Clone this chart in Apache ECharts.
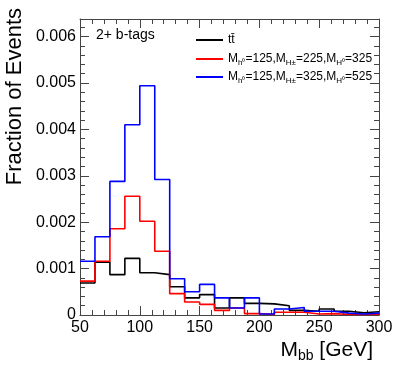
<!DOCTYPE html>
<html>
<head>
<meta charset="utf-8">
<script src="https://cdn.jsdelivr.net/npm/echarts@6/dist/echarts.min.js"></script>
<style>
html,body{margin:0;padding:0;background:#fff;}
#chart{width:399px;height:375px;}
</style>
</head>
<body>
<div id="chart"></div>
<script>
// Bin edges in GeV (20 bins of 12.5 GeV)
const binEdges = [50, 62.5, 75, 87.5, 100, 112.5, 125, 137.5, 150, 162.5, 175, 187.5, 200, 212.5, 225, 237.5, 250, 262.5, 275, 287.5, 300];
// Fraction of events per bin
const ttbar = [0.00069, 0.00114, 0.00087, 0.00122, 0.00091, 0.00087, 0.00061, 0.00037, 0.00044, 0.00015, 0.00037, 0.00025, 0.00024, 0.00020, 0.00010, 0.00008, 0.00013, 0.00008, 0.00005, 0.00007];
const sig225 = [0.00073, 0.00116, 0.00186, 0.00256, 0.00202, 0.001375, 0.00046, 0.00028, 0.00023, 0.00010, 0.00015, 0.00003, 0.00001, 0.00006, 0.00006, 0.00002, 0.00003, 0.00001, 0.00001, 0.00001];
const sig325 = [0.00116, 0.001685, 0.00288, 0.00410, 0.00494, 0.00292, 0.00078, 0.00050, 0.00066, 0.00037, 0.00015, 0.00037, 0.00002, 0.00013, 0.00016, 0.00008, 0.00008, 0.00004, 0.00002, 0.00004];
const xTicks = [50, 100, 150, 200, 250, 300];
const yTicks = [0, 0.001, 0.002, 0.003, 0.004, 0.005, 0.006];

const FONT = 'Liberation Sans';
const xMin = xTicks[0], xMax = xTicks[xTicks.length - 1];
const yMax = 0.00638;

function stepData(vals) {
  return binEdges.map((e, i) => [e, vals[Math.min(i, vals.length - 1)]]);
}

const legendRich = {
  n: {fontSize: 12, fontFamily: FONT, fontWeight: 'normal', color: '#000', lineHeight: 16, verticalAlign: 'middle'},
  s: {fontSize: 8, fontFamily: FONT, fontWeight: 'normal', color: '#000', lineHeight: 8, verticalAlign: 'bottom'}
};
const legendText = {
  'tt̄': '{n|tt̄}',
  'sig225': '{n|M}{s|h⁰}{n|=125,M}{s|H±}{n|=225,M}{s|H⁰}{n|=325}',
  'sig325': '{n|M}{s|h⁰}{n|=125,M}{s|H±}{n|=325,M}{s|H⁰}{n|=525}'
};
const names = ['tt̄', 'sig225', 'sig325'];
const colors = ['#000000', '#ff0000', '#0000ff'];
const legendTops = [29, 48, 66];

const chart = echarts.init(document.getElementById('chart'), null, {renderer: 'canvas'});

function axisCommon() {
  return {
    axisLine: {show: true, onZero: false, lineStyle: {color: '#444', width: 1}},
    axisTick: {show: true, inside: true, length: 9, lineStyle: {color: '#444', width: 1}},
    minorTick: {show: true, splitNumber: 5, length: 5, lineStyle: {color: '#444', width: 1}},
    splitLine: {show: false},
    minorSplitLine: {show: false}
  };
}

const option = {
  animation: false,
  backgroundColor: '#ffffff',
  grid: {left: 80, right: 20, top: 19, bottom: 60, containLabel: false},
  title: [
    {text: '2+ b-tags', left: 91, top: 23, textStyle: {fontFamily: FONT, fontSize: 14, fontWeight: 'normal', color: '#000'}},
    {text: '{m|M}{b|bb}{m| [GeV]}', right: 21, top: 332, textStyle: {fontWeight: 'normal', rich: {
      m: {fontFamily: FONT, fontSize: 21, fontWeight: 'normal', color: '#000', lineHeight: 26, verticalAlign: 'middle'},
      b: {fontFamily: FONT, fontSize: 14, fontWeight: 'normal', color: '#000', lineHeight: 14, verticalAlign: 'bottom'}
    }}}
  ],
  legend: names.map((nm, i) => ({
    data: [nm], left: 191, top: legendTops[i], orient: 'vertical',
    icon: 'rect', itemWidth: 27, itemHeight: 2, itemGap: 4,
    selectedMode: false,
    formatter: (n) => legendText[n],
    textStyle: {rich: legendRich, padding: [0, 0, 0, 0]}
  })),
  xAxis: [
    Object.assign({
      type: 'value', min: xMin, max: xMax, interval: 50, position: 'bottom',
      axisLabel: {show: true, fontFamily: FONT, fontSize: 16, color: '#000', margin: 5}
    }, axisCommon()),
    Object.assign({
      type: 'value', min: xMin, max: xMax, interval: 50, position: 'top',
      axisLabel: {show: false}
    }, axisCommon())
  ],
  yAxis: [
    Object.assign({
      type: 'value', min: 0, max: yMax, interval: 0.001, position: 'left',
      axisLabel: {show: true, fontFamily: FONT, fontSize: 16, color: '#000', margin: 4, showMaxLabel: false,
        formatter: (v) => {
          const t = yTicks.find(y => Math.abs(y - v) < 1e-9);
          if (t === undefined) return '';
          return t === 0 ? '0' : t.toFixed(3);
        }}
    }, axisCommon()),
    Object.assign({
      type: 'value', min: 0, max: yMax, interval: 0.001, position: 'right',
      axisLabel: {show: false}
    }, axisCommon())
  ],
  graphic: [{
    type: 'text', x: 15, y: 8, rotation: Math.PI / 2,
    style: {text: 'Fraction of Events', font: '22px "Liberation Sans"', fill: '#000', textAlign: 'right', textVerticalAlign: 'middle'}
  }],
  series: [ttbar, sig225, sig325].map((vals, i) => ({
    name: names[i], type: 'line', step: 'end', data: stepData(vals),
    xAxisIndex: 0, yAxisIndex: 0,
    symbol: 'none', showSymbol: false, clip: true,
    lineStyle: {color: colors[i], width: 1.6},
    itemStyle: {color: colors[i]}
  }))
};
chart.setOption(option);
</script>
</body>
</html>
